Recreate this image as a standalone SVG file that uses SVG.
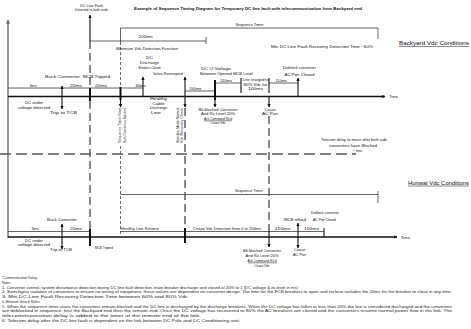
<svg xmlns="http://www.w3.org/2000/svg" width="471" height="329" viewBox="0 0 471 329">
<defs>
<style>
text{font-family:"Liberation Sans",Arial,sans-serif;font-size:3.6px;fill:#111}
.c{text-anchor:middle}
.ti{font-weight:bold;font-size:4.3px}
.h{font-size:5.2px}
.n{font-size:3.7px;fill:#222}
.ax{stroke:#777;stroke-width:1.5;fill:none}
.tl{stroke:#111;stroke-width:1.3;fill:none}
.dl{stroke:#222;stroke-width:0.7;fill:none}
.tk{stroke:#111;stroke-width:1.1;fill:none}
.mk{stroke:#111;stroke-width:2;fill:none}
.ds{stroke:#555;stroke-width:1.4;stroke-dasharray:8 4;fill:none}
.dt{stroke:#555;stroke-width:0.9;stroke-dasharray:3 2;fill:none}
.hd{stroke:#555;stroke-width:1.6;stroke-dasharray:11 5;fill:none}
.ul{stroke:#111;stroke-width:0.5}
</style>
<marker id="a" viewBox="0 0 6 6" refX="5.5" refY="3" markerWidth="3.2" markerHeight="3.2" markerUnits="userSpaceOnUse" orient="auto-start-reverse"><path d="M0,0L6,3L0,6z" fill="#111"/></marker>
<marker id="ag" viewBox="0 0 6 6" refX="5.5" refY="3" markerWidth="4" markerHeight="4" markerUnits="userSpaceOnUse" orient="auto"><path d="M0,0L6,3L0,6z" fill="#666"/></marker>
</defs>
<rect width="471" height="329" fill="#fff"/>

<g id="connectors">
  <line x1="8" y1="238" x2="8" y2="20" class="ax" marker-end="url(#ag)"/>
  <line x1="8" y1="96.5" x2="385" y2="96.5" class="tl" marker-end="url(#a)"/>
  <line x1="8" y1="237" x2="397" y2="237" class="tl" marker-end="url(#a)"/>
  <line x1="0" y1="154" x2="356" y2="154" class="hd"/>
  <line x1="90" y1="41" x2="90" y2="15" class="tk" marker-end="url(#a)"/>
  <line x1="90" y1="41" x2="90" y2="229" class="ds"/>
  <line x1="90" y1="88" x2="90" y2="101" class="mk"/>
  <line x1="90" y1="229" x2="90" y2="246" class="mk"/>
  <path d="M90,41H206M206,37V44" class="dl"/>
  <path d="M120.5,42V28H378M378,28V39" class="dl"/>
  <path d="M120.5,194.5H378M378,191V203" class="dl"/>
  <line x1="120.5" y1="42" x2="120.5" y2="87" class="dt"/>
  <line x1="120.5" y1="87" x2="120.5" y2="100" class="mk"/>
  <line x1="120.5" y1="96.5" x2="120.5" y2="107" class="tk" marker-end="url(#a)"/>
  <line x1="120.5" y1="146" x2="120.5" y2="237" class="dt"/>
  <line x1="62" y1="96.5" x2="62" y2="86" class="tk" marker-end="url(#a)"/>
  <line x1="62" y1="96.5" x2="62" y2="109" class="tk" marker-end="url(#a)"/>
  <line x1="143" y1="96.5" x2="143" y2="77" class="tk" marker-end="url(#a)"/>
  <line x1="185" y1="96.5" x2="185" y2="77" class="tk" marker-end="url(#a)"/>
  <line x1="185" y1="96.5" x2="185" y2="107" class="tk" marker-end="url(#a)"/>
  <line x1="185" y1="108" x2="185" y2="228" class="ds"/>
  <line x1="215" y1="80" x2="215" y2="100" class="mk"/>
  <line x1="215" y1="96.5" x2="215" y2="107" class="tk" marker-end="url(#a)"/>
  <line x1="241" y1="78" x2="241" y2="93" class="tk"/>
  <line x1="269" y1="78" x2="269" y2="93" class="tk"/>
  <line x1="269" y1="96.5" x2="269" y2="107" class="tk" marker-end="url(#a)"/>
  <line x1="269" y1="116" x2="269" y2="231" class="ds"/>
  <line x1="298" y1="96.5" x2="298" y2="78" class="tk" marker-end="url(#a)"/>
  <line x1="8" y1="88" x2="62" y2="88" class="dl"/>
  <line x1="62" y1="88" x2="90" y2="88" class="dl"/>
  <line x1="90" y1="88" x2="120.5" y2="88" class="dl"/>
  <line x1="120.5" y1="88" x2="143" y2="88" class="dl"/>
  <line x1="185" y1="91" x2="215" y2="91" class="dl"/>
  <line x1="215" y1="83" x2="241" y2="83" class="dl"/>
  <line x1="269" y1="83" x2="298" y2="83" class="dl"/>
  <line x1="62" y1="237" x2="62" y2="224" class="tk" marker-end="url(#a)"/>
  <line x1="62" y1="237" x2="62" y2="249" class="tk" marker-end="url(#a)"/>
  <line x1="185" y1="228" x2="185" y2="243" class="mk"/>
  <line x1="269" y1="231" x2="269" y2="247" class="tk" marker-end="url(#a)"/>
  <line x1="298" y1="237" x2="298" y2="223" class="tk" marker-end="url(#a)"/>
  <line x1="298" y1="237" x2="298" y2="248" class="tk" marker-end="url(#a)"/>
  <line x1="324" y1="228" x2="324" y2="237" class="tk"/>
  <line x1="8" y1="231.5" x2="62" y2="231.5" class="dl"/>
  <line x1="62" y1="231.5" x2="90" y2="231.5" class="dl"/>
  <line x1="120.5" y1="231.5" x2="185" y2="231.5" class="dl"/>
  <line x1="185" y1="231.5" x2="269" y2="231.5" class="dl"/>
  <line x1="269" y1="231.5" x2="298" y2="231.5" class="dl"/>
  <line x1="298" y1="231.5" x2="324" y2="231.5" class="dl"/>
  <line x1="399" y1="46.5" x2="469" y2="46.5" class="ul"/>
  <line x1="408" y1="186" x2="469" y2="186" class="ul"/>
  <line x1="204" y1="120.8" x2="232" y2="120.8" class="ul"/>
  <line x1="248" y1="262.8" x2="277" y2="262.8" class="ul"/>
</g>

<g id="title">
  <text x="134" y="10" class="ti" textLength="228" lengthAdjust="spacingAndGlyphs">Example of Sequence Timing Diagram for Temporary DC line fault with telecommunication from Backyard end</text>
</g>

<g id="upper-section">
  <text x="91.5" y="6.5" class="c" textLength="23" lengthAdjust="spacingAndGlyphs">DC Line Fault</text>
  <text x="91.5" y="10.8" class="c" textLength="33" lengthAdjust="spacingAndGlyphs">Detected at both ends</text>
  <text x="249.5" y="26" class="c" textLength="28" lengthAdjust="spacingAndGlyphs">Sequence Timer</text>
  <text x="145.5" y="38" class="c" textLength="14" lengthAdjust="spacingAndGlyphs">200ms</text>
  <text x="116" y="49.5" textLength="62" lengthAdjust="spacingAndGlyphs">Minimum Vdc Detection Function</text>
  <text x="271" y="47.5" textLength="102" lengthAdjust="spacingAndGlyphs">Min DC Line Fault Recovery Detection Time ~60%</text>
  <text x="399" y="45" class="h" textLength="70" lengthAdjust="spacingAndGlyphs">Backyard Vdc Conditions</text>
  <text x="149.5" y="58.5" class="c" textLength="7" lengthAdjust="spacingAndGlyphs">DC</text>
  <text x="149.5" y="63.5" class="c" textLength="19" lengthAdjust="spacingAndGlyphs">Discharge</text>
  <text x="149.5" y="68.5" class="c" textLength="22" lengthAdjust="spacingAndGlyphs">Breakers Closed</text>
  <text x="153" y="74.5" textLength="30" lengthAdjust="spacingAndGlyphs">Valves Reenergized</text>
  <text x="216" y="69.5" class="c" textLength="30" lengthAdjust="spacingAndGlyphs">DC O Voltage</text>
  <text x="200" y="74.5" textLength="53" lengthAdjust="spacingAndGlyphs">Between Opened MCB Level</text>
  <text x="299.5" y="68.5" class="c" textLength="33" lengthAdjust="spacingAndGlyphs">Deblock converter</text>
  <text x="299.5" y="75.5" class="c" textLength="30" lengthAdjust="spacingAndGlyphs">AC Pwr Closed</text>
  <text x="62.5" y="77.5" class="c" textLength="35" lengthAdjust="spacingAndGlyphs">Buck Converter</text>
  <text x="96.5" y="77.5" class="c" textLength="27" lengthAdjust="spacingAndGlyphs">MCB Tripped</text>
  <text x="33" y="86.5" class="c" textLength="7" lengthAdjust="spacingAndGlyphs">3ms</text>
  <text x="76" y="86.5" class="c" textLength="12" lengthAdjust="spacingAndGlyphs">20ms</text>
  <text x="101" y="86.5" class="c" textLength="12" lengthAdjust="spacingAndGlyphs">20ms</text>
  <text x="140.5" y="86.5" class="c" textLength="10" lengthAdjust="spacingAndGlyphs">40ms</text>
  <text x="195.5" y="89.5" class="c" textLength="12" lengthAdjust="spacingAndGlyphs">100ms</text>
  <text x="226" y="81.5" class="c" textLength="12" lengthAdjust="spacingAndGlyphs">110ms</text>
  <text x="281" y="81.5" class="c" textLength="11" lengthAdjust="spacingAndGlyphs">110ms</text>
  <text x="255.5" y="81" class="c" textLength="26" lengthAdjust="spacingAndGlyphs">Line charged to</text>
  <text x="255.5" y="85.5" class="c" textLength="24" lengthAdjust="spacingAndGlyphs">80% Vdc for</text>
  <text x="255.5" y="90" class="c" textLength="15" lengthAdjust="spacingAndGlyphs">100ms</text>
  <text x="389" y="98" textLength="9" lengthAdjust="spacingAndGlyphs">Time</text>
  <text x="34" y="104" class="c" textLength="18" lengthAdjust="spacingAndGlyphs">DC under</text>
  <text x="34" y="108.5" class="c" textLength="32" lengthAdjust="spacingAndGlyphs">voltage detected</text>
  <text x="63.5" y="113.5" class="c" textLength="27" lengthAdjust="spacingAndGlyphs">Trip to TCB</text>
  <text x="158.5" y="100" class="c" textLength="17" lengthAdjust="spacingAndGlyphs">Healthy</text>
  <text x="158.5" y="104.5" class="c" textLength="12" lengthAdjust="spacingAndGlyphs">Cable</text>
  <text x="158.5" y="109" class="c" textLength="17" lengthAdjust="spacingAndGlyphs">Discharge</text>
  <text x="156" y="113.5" class="c" textLength="10" lengthAdjust="spacingAndGlyphs">Line</text>
  <text transform="translate(121,143) rotate(-90)" textLength="35" lengthAdjust="spacingAndGlyphs">Sequence Timer Start</text>
  <text transform="translate(126,143) rotate(-90)" textLength="35" lengthAdjust="spacingAndGlyphs">Both Converters Blocked</text>
  <text transform="translate(178.5,143) rotate(-90)" textLength="35" lengthAdjust="spacingAndGlyphs">Standby Mode Started</text>
  <text transform="translate(182.5,143) rotate(-90)" textLength="35" lengthAdjust="spacingAndGlyphs">Vdc Recovery Check</text>
  <text x="218" y="110.5" class="c" textLength="39" lengthAdjust="spacingAndGlyphs">Bk-blocked Converter</text>
  <text x="218" y="115" class="c" textLength="34" lengthAdjust="spacingAndGlyphs">And Rx Level 20%</text>
  <text x="218" y="119.5" class="c" textLength="28" lengthAdjust="spacingAndGlyphs">Ack Command Rx'd</text>
  <text x="218" y="124" class="c" textLength="15" lengthAdjust="spacingAndGlyphs">Cease Vdc</text>
  <text x="270" y="110.5" class="c" textLength="11" lengthAdjust="spacingAndGlyphs">Cease</text>
  <text x="270" y="115" class="c" textLength="16" lengthAdjust="spacingAndGlyphs">AC Pwr</text>
  <text x="354" y="141" class="c" textLength="66" lengthAdjust="spacingAndGlyphs">Telecom delay to move after both side</text>
  <text x="353" y="146.5" class="c" textLength="48" lengthAdjust="spacingAndGlyphs">converters have Blocked</text>
  <text x="357" y="152" class="c" textLength="10" lengthAdjust="spacingAndGlyphs">~ ms</text>
</g>

<g id="lower-section">
  <text x="408" y="184.5" class="h" textLength="61" lengthAdjust="spacingAndGlyphs">Hunwal Vdc Conditions</text>
  <text x="249" y="191.5" class="c" textLength="28" lengthAdjust="spacingAndGlyphs">Sequence Timer</text>
  <text x="325" y="213.5" class="c" textLength="28" lengthAdjust="spacingAndGlyphs">Deblock converter</text>
  <text x="324.5" y="220.5" class="c" textLength="23" lengthAdjust="spacingAndGlyphs">AC Pwr Closed</text>
  <text x="295" y="220.5" class="c" textLength="22" lengthAdjust="spacingAndGlyphs">MCB reload</text>
  <text x="62" y="220.5" class="c" textLength="30" lengthAdjust="spacingAndGlyphs">Buck Converter</text>
  <text x="35" y="229.5" class="c" textLength="7" lengthAdjust="spacingAndGlyphs">3ms</text>
  <text x="76" y="229.5" class="c" textLength="12" lengthAdjust="spacingAndGlyphs">20ms</text>
  <text x="121" y="230" textLength="38" lengthAdjust="spacingAndGlyphs">Healthy Line Restore</text>
  <text x="193" y="230" textLength="68" lengthAdjust="spacingAndGlyphs">Cease Vdc Detection from 0 to 200ms</text>
  <text x="282.5" y="229.5" class="c" textLength="16" lengthAdjust="spacingAndGlyphs">110ms</text>
  <text x="311.5" y="229.5" class="c" textLength="15" lengthAdjust="spacingAndGlyphs">110ms</text>
  <text x="401" y="238.5" textLength="9" lengthAdjust="spacingAndGlyphs">Time</text>
  <text x="34" y="241.5" class="c" textLength="18" lengthAdjust="spacingAndGlyphs">DC under</text>
  <text x="34" y="245.5" class="c" textLength="32" lengthAdjust="spacingAndGlyphs">voltage detected</text>
  <text x="61" y="250.5" class="c" textLength="22" lengthAdjust="spacingAndGlyphs">Trip to TCB</text>
  <text x="95" y="248.5" textLength="18" lengthAdjust="spacingAndGlyphs">MCB Tripped</text>
  <text x="262" y="251.5" class="c" textLength="38" lengthAdjust="spacingAndGlyphs">Bk-blocked Converter</text>
  <text x="262" y="256.5" class="c" textLength="33" lengthAdjust="spacingAndGlyphs">And Rx Level 20%</text>
  <text x="262" y="261.5" class="c" textLength="29" lengthAdjust="spacingAndGlyphs">Ack Command Rx'd</text>
  <text x="262" y="266.5" class="c" textLength="15" lengthAdjust="spacingAndGlyphs">Cease Vdc</text>
  <text x="299.5" y="251" class="c" textLength="11" lengthAdjust="spacingAndGlyphs">Cease</text>
  <text x="299.5" y="255.5" class="c" textLength="13" lengthAdjust="spacingAndGlyphs">AC Pwr</text>
</g>

<g id="notes">
  <text x="2" y="278.5" class="n" textLength="35" lengthAdjust="spacingAndGlyphs">*Communication Delay</text>
  <text x="2" y="284" class="n" textLength="9" lengthAdjust="spacingAndGlyphs">Notes:</text>
  <text x="2" y="288.5" class="n" textLength="296" lengthAdjust="spacingAndGlyphs">1. Converter control, system disturbance detection during DC line fault detection, main breaker discharge and closed at 20% to 1 (DC voltage &amp; its level in ms)</text>
  <text x="2" y="293.3" class="n" textLength="450" lengthAdjust="spacingAndGlyphs">2. Switchgear isolation of converters to ensure no arcing of equipment; these values are dependent on converter design. The time for the FCB breakers to open and reclose includes the 20ms for the breaker to close in any time.</text>
  <text x="2" y="298.1" class="n" textLength="186" lengthAdjust="spacingAndGlyphs">3. Min DC Line Fault Recovery Detection Time between 60% and 80% Vdc</text>
  <text x="2" y="302.9" class="n" textLength="38" lengthAdjust="spacingAndGlyphs">4. Minimum Value = 300ms</text>
  <text x="2" y="307.7" class="n" textLength="450" lengthAdjust="spacingAndGlyphs">5. When the sequence timer starts the converters remain blocked and the DC line is discharged by the discharge breakers. When the DC voltage has fallen to less than 20% the line is considered discharged and the converters</text>
  <text x="2" y="312.3" class="n" textLength="450" lengthAdjust="spacingAndGlyphs">are deblocked in sequence, first the Backyard end then the remote end. Once the DC voltage has recovered to 80% the AC breakers are closed and the converters resume normal power flow in the link. The</text>
  <text x="2" y="316.9" class="n" textLength="199" lengthAdjust="spacingAndGlyphs">telecommunication delay is added to the timer at the remote end of the link.</text>
  <text x="2" y="321.5" class="n" textLength="238" lengthAdjust="spacingAndGlyphs">6. Telecom delay after the DC line fault is dependent on the link between DC Pole and DC Conditioning unit.</text>
</g>
</svg>
